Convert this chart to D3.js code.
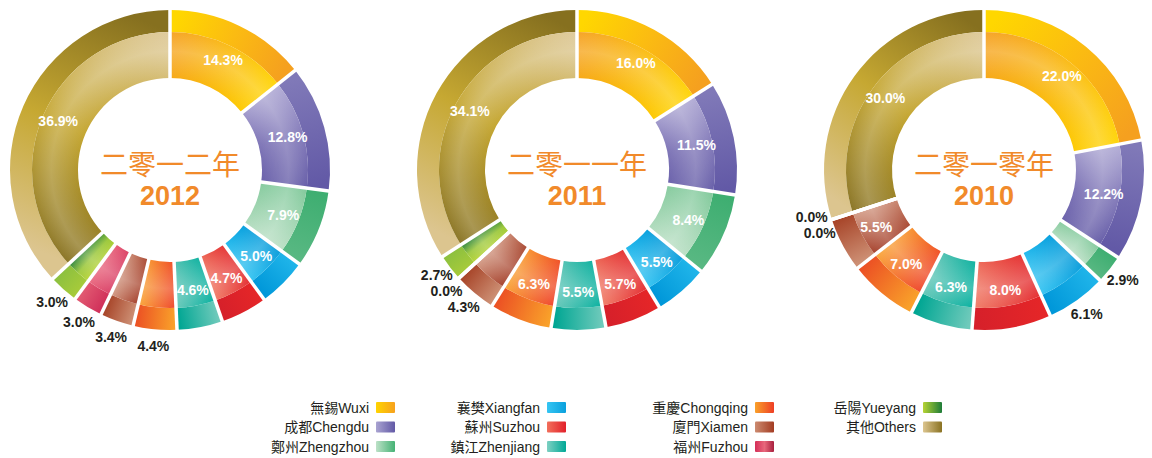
<!DOCTYPE html>
<html>
<head>
<meta charset="utf-8">
<script src="https://cdn.jsdelivr.net/npm/d3@7"></script>
<style>
  body { margin: 0; background: #fff; }
  svg { display: block; }
</style>
</head>
<body>
<div id="chart"></div>
<script>
// categories, in clockwise order starting at 12 o'clock
const categories = ["無錫Wuxi", "成都Chengdu", "鄭州Zhengzhou", "襄樊Xiangfan", "蘇州Suzhou",
    "鎮江Zhenjiang", "重慶Chongqing", "廈門Xiamen", "福州Fuzhou", "岳陽Yueyang", "其他Others"];

const years = ["2012", "2011", "2010"];
const yearTitles = ["二零一二年", "二零一一年", "二零一零年"];

// share of each category (%)
const shares2012 = [14.3, 12.8, 7.9, 5.0, 4.7, 4.6, 4.4, 3.4, 3.0, 3.0, 36.9];
const shares2011 = [16.0, 11.5, 8.4, 5.5, 5.7, 5.5, 6.3, 4.3, 0.0, 2.7, 34.1];
const shares2010 = [22.0, 12.2, 2.9, 6.1, 8.0, 6.3, 7.0, 5.5, 0.0, 0.0, 30.0];
const sharesByYear = [shares2012, shares2011, shares2010];

// which labels sit outside the ring
const outsideLabels = [
    ["重慶Chongqing", "廈門Xiamen", "福州Fuzhou", "岳陽Yueyang"],
    ["廈門Xiamen", "福州Fuzhou", "岳陽Yueyang"],
    ["鄭州Zhengzhou", "襄樊Xiangfan", "福州Fuzhou", "岳陽Yueyang"]
];

// colours: outer band, inner band, legend key
const palette = [
    { outer: ["#FFD700", "#FBBB12", "#F5A01F"], inner: ["#F5A01F", "#FFD400"], key: ["#FFD400", "#F7A11E"] },
    { outer: ["#8079B8", "#6259A6"], inner: ["#B3ADD6", "#7F76B7", "#6158A5"], key: ["#A9A3D1", "#6259A6"] },
    { outer: ["#3EAE71", "#58B882"], inner: ["#7CC797", "#BCE0C6"], key: ["#BDE1C7", "#45B275"] },
    { outer: ["#1FB4E9", "#0097D9"], inner: ["#0098D9", "#30C3F2"], key: ["#35C5F3", "#0AA0DD"] },
    { outer: ["#E52628", "#D6202A"], inner: ["#E3262B", "#F07A64"], key: ["#F26F5B", "#E2202A"] },
    { outer: ["#6FCABB", "#00A693"], inner: ["#00AE9C", "#65C7B8"], key: ["#7ED0C2", "#00A896"] },
    { outer: ["#F9A12A", "#EC5224"], inner: ["#EE3F26", "#FAA635"], key: ["#F9A12A", "#EE3E25"] },
    { outer: ["#CD8F74", "#A8462A"], inner: ["#A13822", "#D49C86"], key: ["#CC8B70", "#A33C22"] },
    { outer: ["#D0305A", "#E25A72"], inner: ["#D83A62", "#EA6A80"], key: ["#D42E58", "#E8687C", "#A8203E"] },
    { outer: ["#A7CB3A", "#8CC03F"], inner: ["#B8D433", "#9CC83C", "#1E7C39"], key: ["#B6D334", "#1E7C39"] },
    { outer: ["#DCC58F", "#C6A832", "#86701F"], inner: ["#86701F", "#C5A733", "#DEC999"], key: ["#DCC58F", "#8A7222"] }
];

const width = 1152, height = 458;
const cy = 170;
const rInner = 92, rMid = 138, rOuter = 160, rLabel = 122, rOutside = 177;
const legendCols = [376, 547, 755, 923];
const legendRows = [408, 427.5, 447];

const fontLatin = "'Liberation Sans', Arial, 'Noto Sans CJK TC', sans-serif";
const fmt = v => d3.format(".1f")(v) + "%";

const svg = d3.select("#chart")
    .append("svg")
    .attr("width", width)
    .attr("height", height);

const defs = svg.append("defs");

function addStops(grad, colors) {
    colors.forEach((c, k) => {
        grad.append("stop")
            .attr("offset", colors.length === 1 ? 0 : k / (colors.length - 1))
            .attr("stop-color", c);
    });
}

// soft highlight on the inner band
const glow = defs.append("radialGradient")
    .attr("id", "glow")
    .attr("gradientUnits", "userSpaceOnUse")
    .attr("cx", 0).attr("cy", 0).attr("r", rMid);
glow.append("stop").attr("offset", rInner / rMid).attr("stop-color", "#fff").attr("stop-opacity", 0);
glow.append("stop").attr("offset", 0.86).attr("stop-color", "#fff").attr("stop-opacity", 0.22);
glow.append("stop").attr("offset", 1).attr("stop-color", "#fff").attr("stop-opacity", 0.04);

const x = d3.scalePoint().domain(years).range([170, 984]);

const pie = d3.pie().sort(null).value(d => d.value);
const outerBand = d3.arc().innerRadius(rMid).outerRadius(rOuter);
const innerBand = d3.arc().innerRadius(rInner).outerRadius(rMid);
const labelArc = d3.arc().innerRadius(rLabel).outerRadius(rLabel);
const outsideArc = d3.arc().innerRadius(rOutside).outerRadius(rOutside);

const pt = (a, r) => [r * Math.sin(a), -r * Math.cos(a)];

years.forEach((year, j) => {
    const data = categories.map((name, i) => ({ name, i, value: sharesByYear[j][i] }));
    const arcs = pie(data);

    const g = svg.append("g")
        .attr("transform", `translate(${x(year)},${cy})`);

    arcs.forEach(a => {
        if (a.data.value <= 0) return;
        const p0 = pt(a.startAngle, rMid), p1 = pt(a.endAngle, rMid);

        ["outer", "inner"].forEach(band => {
            const grad = defs.append("linearGradient")
                .attr("id", `g${j}-${a.data.i}-${band}`)
                .attr("gradientUnits", "userSpaceOnUse")
                .attr("x1", p0[0]).attr("y1", p0[1])
                .attr("x2", p1[0]).attr("y2", p1[1]);
            addStops(grad, palette[a.data.i][band]);
        });

        g.append("path")
            .attr("d", outerBand(a))
            .attr("fill", `url(#g${j}-${a.data.i}-outer)`);
        g.append("path")
            .attr("d", innerBand(a))
            .attr("fill", `url(#g${j}-${a.data.i}-inner)`);
        g.append("path")
            .attr("d", innerBand(a))
            .attr("fill", "url(#glow)");
    });

    // white separators between slices
    g.selectAll(".sep")
        .data(arcs)
        .join("line")
        .attr("class", "sep")
        .attr("x1", d => pt(d.startAngle, rInner - 2)[0])
        .attr("y1", d => pt(d.startAngle, rInner - 2)[1])
        .attr("x2", d => pt(d.startAngle, rOuter + 2)[0])
        .attr("y2", d => pt(d.startAngle, rOuter + 2)[1])
        .attr("stroke", "#fff")
        .attr("stroke-width", 3.5);

    // labels inside the ring
    const outs = outsideLabels[j];
    g.selectAll(".lbl-in")
        .data(arcs.filter(d => !outs.includes(d.data.name)))
        .join("text")
        .attr("class", "lbl-in")
        .attr("transform", d => `translate(${labelArc.centroid(d)})`)
        .attr("text-anchor", "middle")
        .attr("dy", "0.35em")
        .attr("fill", "#fff")
        .style("font", `bold 14px ${fontLatin}`)
        .text(d => fmt(d.data.value));

    // labels outside, nudged apart when they collide
    const outItems = arcs.filter(d => outs.includes(d.data.name))
        .map(d => {
            const c = outsideArc.centroid(d);
            return { d, x: c[0], y: c[1] };
        });
    for (let it = 0; it < 40; it++) {
        for (let a = 0; a < outItems.length; a++) {
            for (let b = a + 1; b < outItems.length; b++) {
                const A = outItems[a], B = outItems[b];
                const dy = B.y - A.y;
                if (Math.abs(B.x - A.x) < 30 && Math.abs(dy) < 16) {
                    const push = (16 - Math.abs(dy)) / 2;
                    const s = dy >= 0 ? 1 : -1;
                    A.y -= s * push; B.y += s * push;
                    if (dy === 0) { A.x -= 4; B.x += 4; }
                }
            }
        }
    }
    g.selectAll(".lbl-out")
        .data(outItems)
        .join("text")
        .attr("class", "lbl-out")
        .attr("x", d => d.x)
        .attr("y", d => d.y)
        .attr("text-anchor", "middle")
        .attr("dy", "0.35em")
        .attr("fill", "#231F20")
        .style("font", `bold 14px ${fontLatin}`)
        .text(d => fmt(d.d.data.value));

    // centre title
    g.append("text")
        .attr("text-anchor", "middle")
        .attr("y", 5)
        .attr("fill", "#F18A2A")
        .style("font", "400 28px 'Noto Sans CJK TC', sans-serif")
        .text(yearTitles[j]);
    g.append("text")
        .attr("text-anchor", "middle")
        .attr("y", 35)
        .attr("fill", "#F18A2A")
        .style("font", `bold 27px ${fontLatin}`)
        .text(year);
});

// legend
const legend = svg.append("g").attr("class", "legend");
categories.forEach((name, i) => {
    const col = Math.floor(i / 3), row = i % 3;
    const grad = defs.append("linearGradient").attr("id", `key-${i}`);
    addStops(grad, palette[i].key);

    legend.append("rect")
        .attr("x", legendCols[col])
        .attr("y", legendRows[row] - 6)
        .attr("width", 19)
        .attr("height", 11)
        .attr("rx", 1)
        .attr("fill", `url(#key-${i})`);

    legend.append("text")
        .attr("x", legendCols[col] - 7)
        .attr("y", legendRows[row])
        .attr("dy", "0.35em")
        .attr("text-anchor", "end")
        .attr("fill", "#231F20")
        .style("font", `14px ${fontLatin}`)
        .text(name);
});
</script>
</body>
</html>
